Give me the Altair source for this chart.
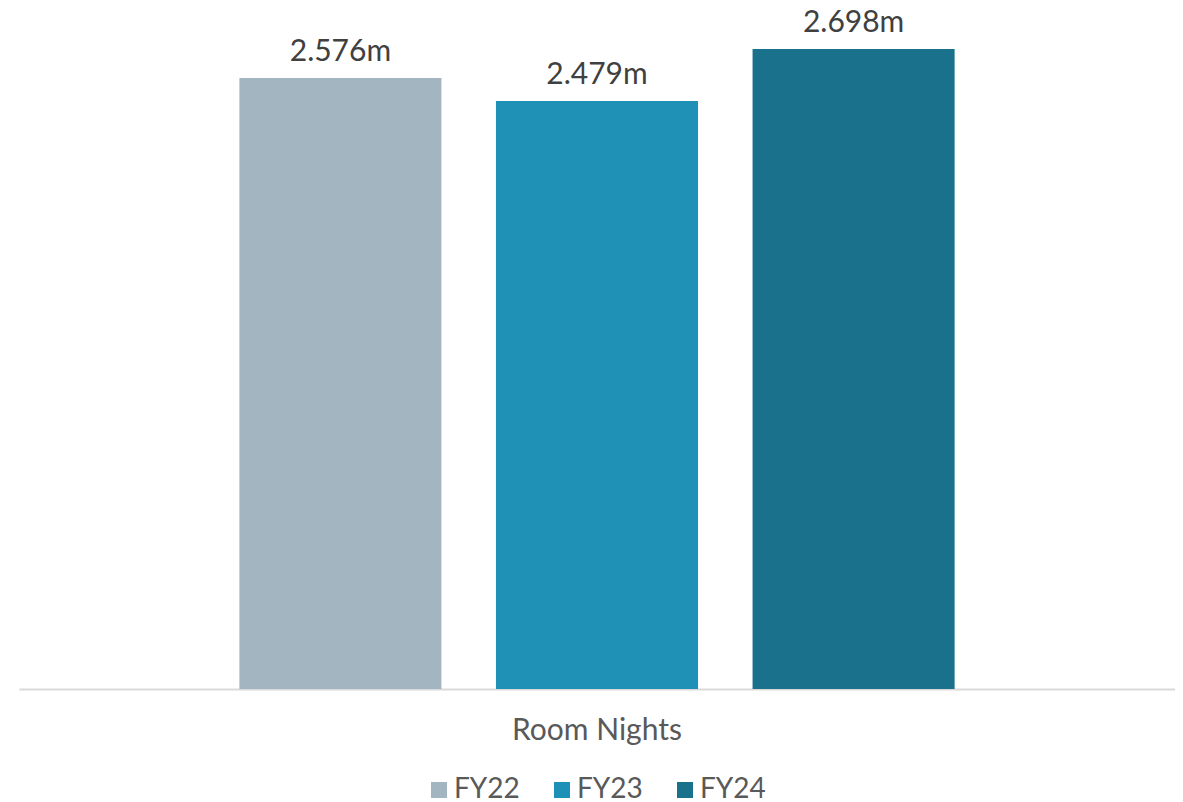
import altair as alt
import pandas as pd

categories = ["Room Nights"]
series = ["FY22", "FY23", "FY24"]
values = [2.576, 2.479, 2.698]
labels = ["2.576m", "2.479m", "2.698m"]
colors = ["#A3B5C1", "#1F91B6", "#19718B"]

df = pd.DataFrame({
    "category": categories * len(series),
    "series": series,
    "value": values,
    "label": labels,
})

FONT = "Lato"

x = alt.X("category:N", title=None,
          scale=alt.Scale(paddingInner=0, paddingOuter=0.251),
          axis=alt.Axis(labelAngle=0, labelFont=FONT, labelFontSize=30,
                        labelColor="#595959", labelPadding=41, labelBaseline="middle",
                        ticks=False, domainColor="#D9D9D9", domainWidth=2, grid=False))
xo = alt.XOffset("series:N", sort=series,
                 scale=alt.Scale(paddingInner=0.2125, paddingOuter=0.106))
y = alt.Y("value:Q", scale=alt.Scale(domain=[0, 2.867], nice=False, zero=True), axis=None)

bars = alt.Chart(df).mark_bar().encode(
    x=x, xOffset=xo, y=y,
    color=alt.Color("series:N", sort=series,
                    scale=alt.Scale(domain=series, range=colors),
                    legend=alt.Legend(title=None, orient="none", direction="horizontal",
                                      legendX=406, legendY=767,
                                      symbolType="square", symbolSize=256,
                                      symbolStrokeWidth=0, symbolOpacity=1,
                                      labelFont=FONT, labelFontSize=28, labelColor="#595959",
                                      labelOffset=1, columnPadding=28, labelLimit=200)),
)

text = alt.Chart(df).mark_text(font=FONT, fontSize=30, color="#404040",
                               baseline="alphabetic", dy=-17).encode(
    x=x, xOffset=xo, y=y, text="label:N")

chart = (bars + text).properties(
    width=1156, height=680,
    padding={"left": 11, "top": 0, "right": 0, "bottom": 4},
).configure(font=FONT).configure_view(stroke=None, strokeWidth=0)

chart.save("out.html", embed_options={"renderer": "svg", "actions": False})
